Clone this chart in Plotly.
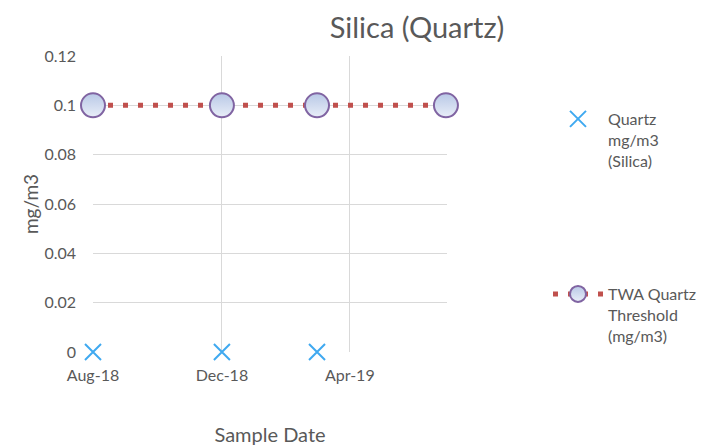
import plotly.graph_objects as go

quartz_dates = ["2018-08-01", "2018-12-01", "2019-03-01"]
quartz_values = [0, 0, 0]
threshold_dates = ["2018-08-01", "2018-12-01", "2019-03-01", "2019-07-01"]
threshold_values = [0.1, 0.1, 0.1, 0.1]
x_tick_dates = ["2018-08-01", "2018-12-01", "2019-04-01"]
x_tick_labels = ["Aug-18", "Dec-18", "Apr-19"]
y_tick_values = [0, 0.02, 0.04, 0.06, 0.08, 0.1, 0.12]
y_tick_labels = ["0", "0.02", "0.04", "0.06", "0.08", "0.1", "0.12"]

FONT = "Lato"
GRAY = "#595959"

fig = go.Figure()
fig.add_trace(go.Scatter(
    x=threshold_dates, y=threshold_values, mode="lines+markers",
    name="TWA Quartz<br>Threshold<br>(mg/m3)",
    line=dict(color="#c0504d", width=5, dash="5px,10px"),
    marker=dict(size=24, color="#b8c8e6", line=dict(color="#8064a2", width=2),
                gradient=dict(type="vertical", color="#e9eef8")),
    cliponaxis=False, legend="legend2", showlegend=True,
))
fig.add_trace(go.Scatter(
    x=quartz_dates, y=quartz_values, mode="markers",
    name="Quartz<br>mg/m3<br>(Silica)",
    marker=dict(symbol="x-thin", size=16, line=dict(color="#3fa9f0", width=2)),
    cliponaxis=False, legend="legend", showlegend=True,
))

fig.update_layout(
    width=708, height=446,
    margin=dict(l=93, r=261, t=56, b=94, autoexpand=False),
    paper_bgcolor="white", plot_bgcolor="white",
    showlegend=True,
    font=dict(family=FONT, color=GRAY, size=16),
    title=dict(text="Silica (Quartz)", x=417/708, xanchor="center", y=1 - 28/446,
               yanchor="middle", font=dict(size=29, color=GRAY, family=FONT)),
    xaxis=dict(type="date", range=["2018-08-01", "2019-07-02"],
               tickvals=x_tick_dates, ticktext=x_tick_labels,
               showgrid=True, gridcolor="#d9d9d9", gridwidth=1,
               zeroline=False, showline=False, ticks="", automargin=False,
               ticklabelstandoff=12,
               tickfont=dict(size=16, color=GRAY, family=FONT),
               title=dict(text="Sample Date", font=dict(size=20, color=GRAY, family=FONT), standoff=47)),
    yaxis=dict(range=[0, 0.12], tickvals=y_tick_values, ticktext=y_tick_labels,
               showgrid=True, gridcolor="#d9d9d9", gridwidth=1,
               zeroline=False, showline=False, ticks="", automargin=False,
               ticklabelstandoff=16,
               tickfont=dict(size=16, color=GRAY, family=FONT),
               title=dict(text="mg/m3", font=dict(size=19, color=GRAY, family=FONT), standoff=0)),
    legend=dict(xref="container", yref="container", x=548/708, xanchor="left",
                y=1 - 102/446, yanchor="top", itemwidth=50,
                valign="top", font=dict(size=16, color=GRAY, family=FONT),
                bgcolor="rgba(0,0,0,0)"),
    legend2=dict(xref="container", yref="container", x=548/708, xanchor="left",
                 y=1 - 277/446, yanchor="top", itemwidth=50,
                 valign="top", font=dict(size=16, color=GRAY, family=FONT),
                 bgcolor="rgba(0,0,0,0)"),
)

fig.write_html("out.html", config={"displayModeBar": False},
               post_script="document.body.style.margin='0';")
